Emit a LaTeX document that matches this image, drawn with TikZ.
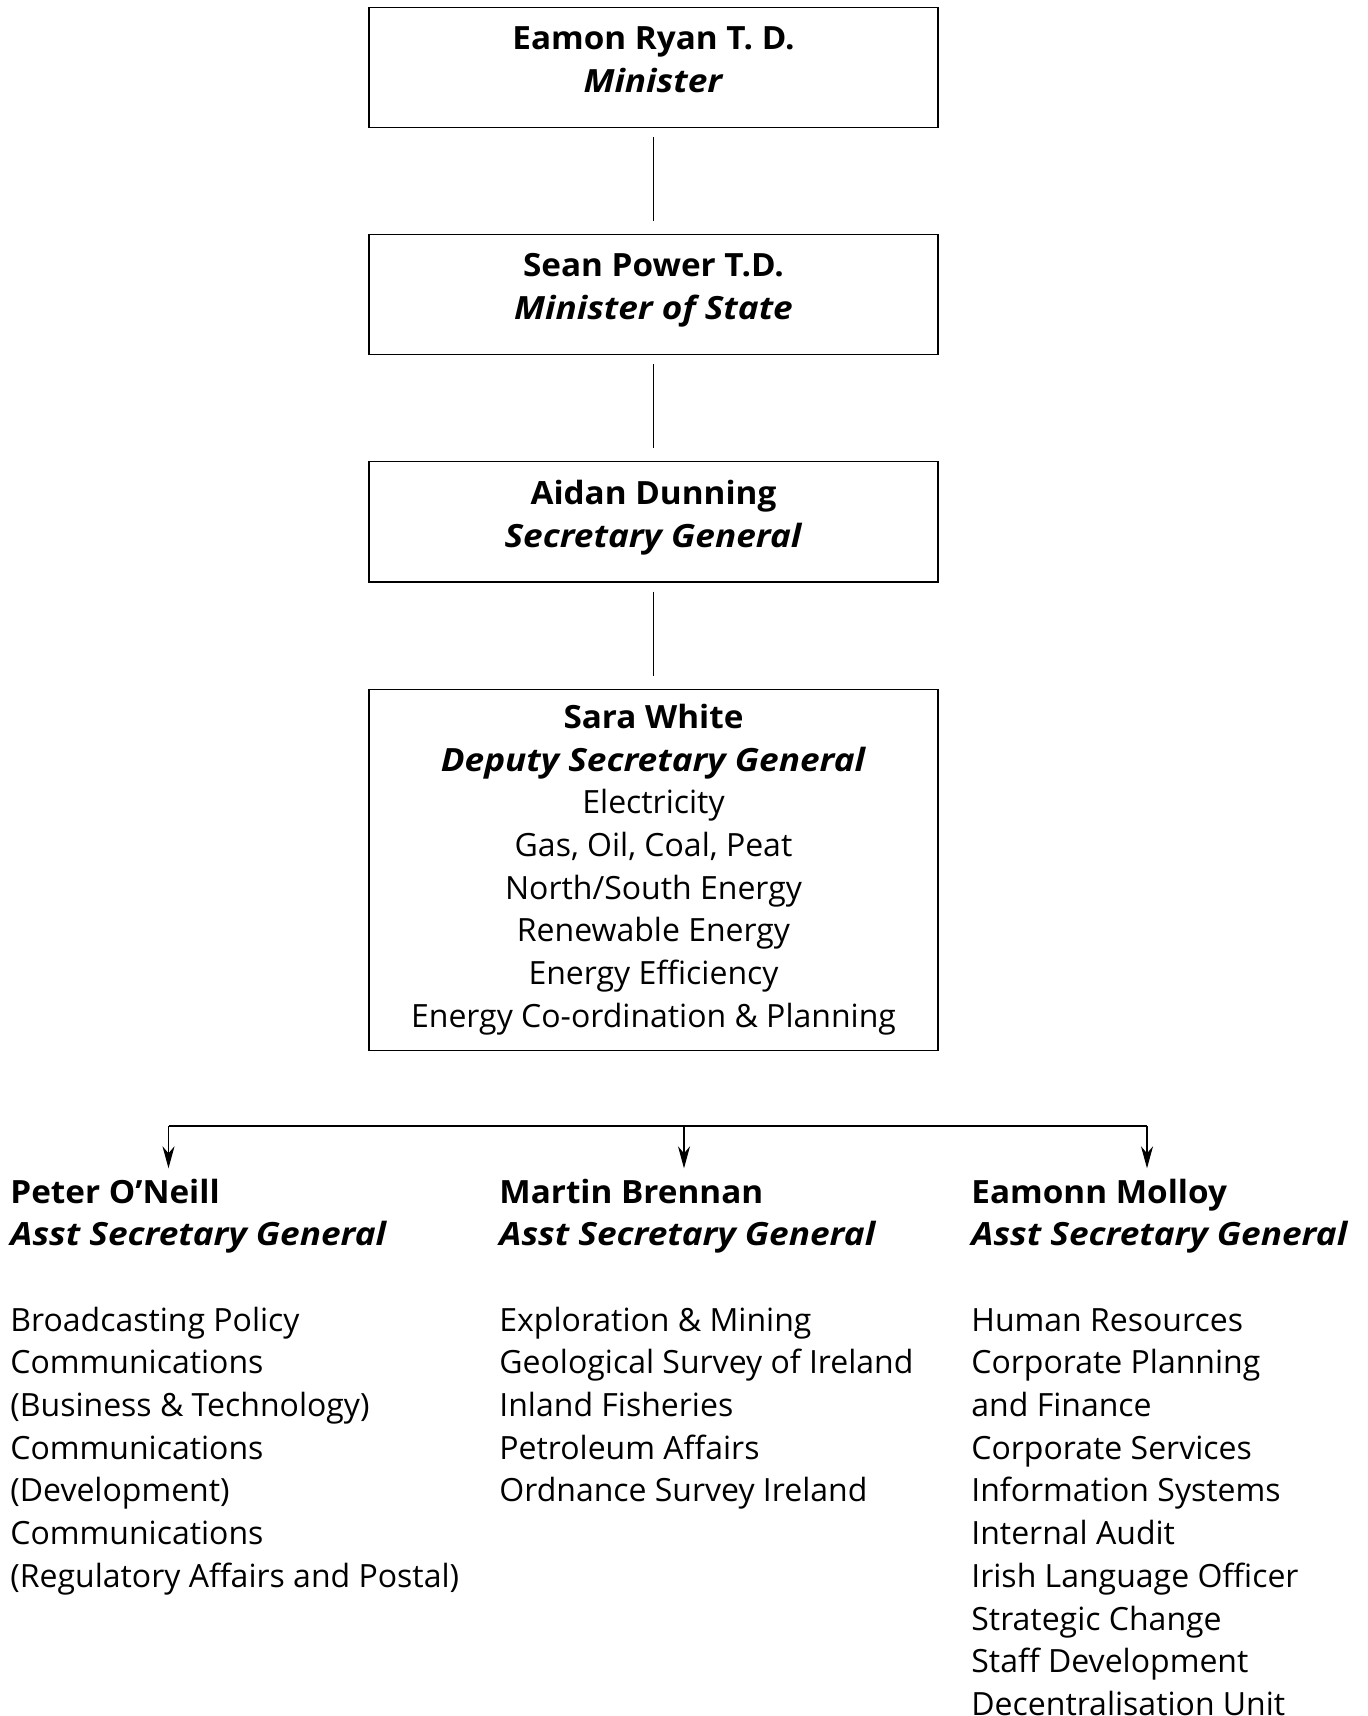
\documentclass[tikz,border=0pt]{standalone}
\usepackage{fontspec}
\setmainfont{Open Sans}[BoldFeatures={FakeStretch=1.04},BoldItalicFeatures={FakeStretch=1.1}]
\usepackage{tikz}
\usetikzlibrary{positioning,arrows.meta}
\newcommand{\orgsize}{\fontsize{16pt}{21.35pt}\selectfont}
\newcommand{\pname}[1]{\textbf{#1}}
\newcommand{\ptitle}[1]{\textbf{\itshape #1}}

\begin{document}
\begin{tikzpicture}[x=0.5pt,y=-0.5pt,
  node distance=53pt,
  box/.style={draw,line width=0.6pt,align=center,font=\orgsize,
    minimum width=284.5pt,minimum height=60pt,inner sep=0pt,text depth=8pt},
  bigbox/.style={box,minimum height=180.5pt,text depth=},
  column/.style={align=left,font=\orgsize,inner sep=0pt,anchor=base west},
  link/.style={line width=0.6pt,shorten <=4.5pt,shorten >=6.5pt},
  down/.style={line width=0.6pt,-{Stealth[length=11pt,width=6pt,inset=3.5pt]},shorten >=5pt}]
\useasboundingbox (0,0) rectangle (1368,1716);
% chain of boxes from the minister down
\node[box] (minister) at (653.5,67.5) {\pname{Eamon Ryan T. D.}\\\ptitle{Minister}};
\node[box,below=of minister] (state) {\pname{Sean Power T.D.}\\\ptitle{Minister of State}};
\node[box,below=of state] (secgen) {\pname{Aidan Dunning}\\\ptitle{Secretary General}};
\node[bigbox,below=of secgen] (deputy) {\pname{Sara White}\\\ptitle{Deputy Secretary General}\\
  Electricity\\Gas, Oil, Coal, Peat\\North/South Energy\\Renewable Energy\\
  Energy Efficiency\\Energy Co-ordination \& Planning};
\draw[link] (minister) -- (state);
\draw[link] (state) -- (secgen);
\draw[link] (secgen) -- (deputy);
% the three assistant secretaries
\node[column] (oneill) at (10,1587.3) {\pname{Peter O'Neill}\\\ptitle{Asst Secretary General}\\[21.35pt]
  Broadcasting Policy\\Communications\\(Business \& Technology)\\Communications\\
  (Development)\\Communications\\(Regulatory Affairs and Postal)};
\node[column] (brennan) at (499,1501.9) {\pname{Martin Brennan}\\\ptitle{Asst Secretary General}\\[21.35pt]
  Exploration \& Mining\\Geological Survey of Ireland\\Inland Fisheries\\
  Petroleum Affairs\\Ordnance Survey Ireland};
\node[column] (molloy) at (971,1715.4) {\pname{Eamonn Molloy}\\\ptitle{Asst Secretary General}\\[21.35pt]
  Human Resources\\Corporate Planning\\and Finance\\Corporate Services\\
  Information Systems\\Internal Audit\\Irish Language Officer\\Strategic Change\\
  Staff Development\\Decentralisation Unit};
% distribution bar
\coordinate (barL) at (168.5,1126);
\coordinate (barM) at (684,1126);
\coordinate (barR) at (1147,1126);
\draw[line width=0.6pt] (barL) -- (barR);
\draw[down] (barL) -- (barL |- oneill.north);
\draw[down] (barM) -- (barM |- brennan.north);
\draw[down] (barR) -- (barR |- molloy.north);
\end{tikzpicture}
\end{document}
